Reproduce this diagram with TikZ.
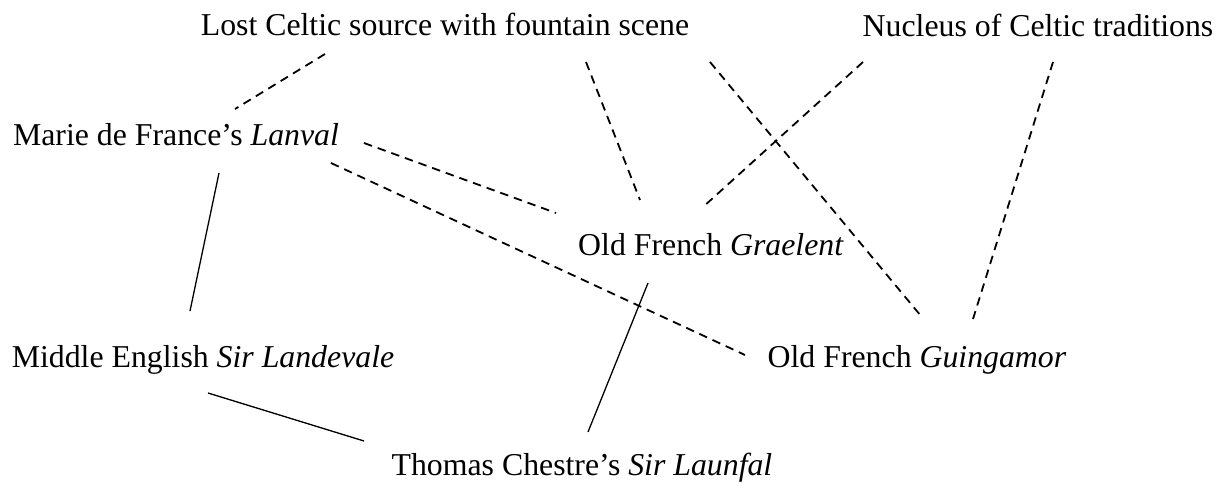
\documentclass[tikz,border=0pt]{standalone}
\usepackage{fontspec}
\setmainfont{Liberation Serif}
\begin{document}
\begin{tikzpicture}[x=1pt,y=-1pt,
  lbl/.style={anchor=base,inner sep=0pt,font=\fontsize{31.8}{38}\selectfont},
  dsh/.style={line width=1.8pt,dash pattern=on 8.5pt off 6pt},
  sld/.style={line width=1.3pt}]
\useasboundingbox (0,0) rectangle (1225,487);
\node[lbl] (lost) at (445,36) {Lost Celtic source with fountain scene};
\node[lbl] (nuc) at (1038,37) {Nucleus of Celtic traditions};
\node[lbl] (lanval) at (176,145) {Marie de France’s \textit{Lanval}};
\node[lbl] (grael) at (711,255) {Old French \textit{Graelent}};
\node[lbl] (lande) at (203,367) {Middle English \textit{Sir Landevale}};
\node[lbl] (guing) at (917,367) {Old French \textit{Guingamor}};
\node[lbl] (thomas) at (582,475) {Thomas Chestre’s \textit{Sir Launfal}};
\draw[dsh] ([shift={(-120,18)}]lost.base) -- ([shift={(59,-36)}]lanval.base);
\draw[dsh] ([shift={(141,26)}]lost.base) -- ([shift={(-71,-55)}]grael.base);
\draw[dsh] ([shift={(265,26)}]lost.base) -- ([shift={(4,-51)}]guing.base);
\draw[dsh] ([shift={(-175,25)}]nuc.base) -- ([shift={(-8,-48)}]grael.base);
\draw[dsh] ([shift={(15,25)}]nuc.base) -- ([shift={(56,-48)}]guing.base);
\draw[dsh] ([shift={(188,-2)}]lanval.base) -- ([shift={(-155,-42)}]grael.base);
\draw[dsh] ([shift={(155,18)}]lanval.base) -- ([shift={(-172,-12)}]guing.base);
\draw[sld] ([shift={(43,28)}]lanval.base) -- ([shift={(-13,-56)}]lande.base);
\draw[sld] ([shift={(5,26)}]lande.base) -- ([shift={(-218,-34)}]thomas.base);
\draw[sld] ([shift={(-63,28)}]grael.base) -- ([shift={(6,-43)}]thomas.base);
\end{tikzpicture}
\end{document}
